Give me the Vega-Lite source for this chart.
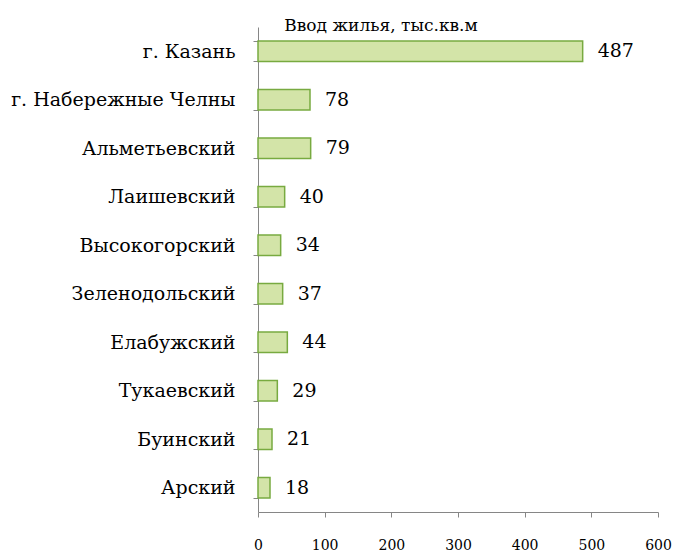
{
  "$schema": "https://vega.github.io/schema/vega-lite/v6.json",
  "autosize": "none",
  "width": 400,
  "height": 485,
  "padding": {"left": 258, "top": 27, "right": 15, "bottom": 42},
  "background": "white",
  "title": {
    "text": "Ввод жилья, тыс.кв.м",
    "anchor": "middle",
    "frame": "group",
    "dx": -77,
    "dy": 26,
    "offset": -4,
    "baseline": "alphabetic",
    "font": "DejaVu Serif",
    "fontSize": 17,
    "fontWeight": "normal",
    "color": "#000000"
  },
  "data": {
    "values": [
      {"district": "г. Казань", "value": 487},
      {"district": "г. Набережные Челны", "value": 78},
      {"district": "Альметьевский\u00a0", "value": 79},
      {"district": "Лаишевский\u00a0", "value": 40},
      {"district": "Высокогорский\u00a0", "value": 34},
      {"district": "Зеленодольский", "value": 37},
      {"district": "Елабужский\u00a0", "value": 44},
      {"district": "Тукаевский\u00a0", "value": 29},
      {"district": "Буинский\u00a0", "value": 21},
      {"district": "Арский\u00a0", "value": 18}
    ]
  },
  "encoding": {
    "y": {
      "field": "district",
      "type": "nominal",
      "sort": null,
      "scale": {"paddingInner": 0.58, "paddingOuter": 0.29},
      "axis": {
        "title": null,
        "domainColor": "#868686",
        "tickColor": "#868686",
        "tickSize": 5,
        "tickBand": "extent",
        "labelFont": "DejaVu Serif",
        "labelFontSize": 19,
        "labelColor": "#000000",
        "labelPadding": 18,
        "labelLimit": 0
      }
    },
    "x": {
      "field": "value",
      "type": "quantitative",
      "scale": {"domain": [0, 600], "nice": false},
      "axis": {
        "title": null,
        "grid": false,
        "values": [0, 100, 200, 300, 400, 500, 600],
        "domainColor": "#868686",
        "tickColor": "#868686",
        "tickSize": 5,
        "labelFont": "DejaVu Serif",
        "labelFontSize": 14,
        "labelColor": "#000000",
        "labelPadding": 21,
        "labelFlush": false
      }
    }
  },
  "layer": [
    {
      "mark": {"type": "bar", "fill": "#d3e4a8", "stroke": "#78aa40", "strokeWidth": 1.5}
    },
    {
      "mark": {"type": "text", "align": "left", "baseline": "middle", "dx": 15, "font": "DejaVu Serif", "fontSize": 19, "color": "#000000"},
      "encoding": {"text": {"field": "value", "type": "quantitative"}}
    }
  ],
  "config": {"view": {"stroke": null}}
}
